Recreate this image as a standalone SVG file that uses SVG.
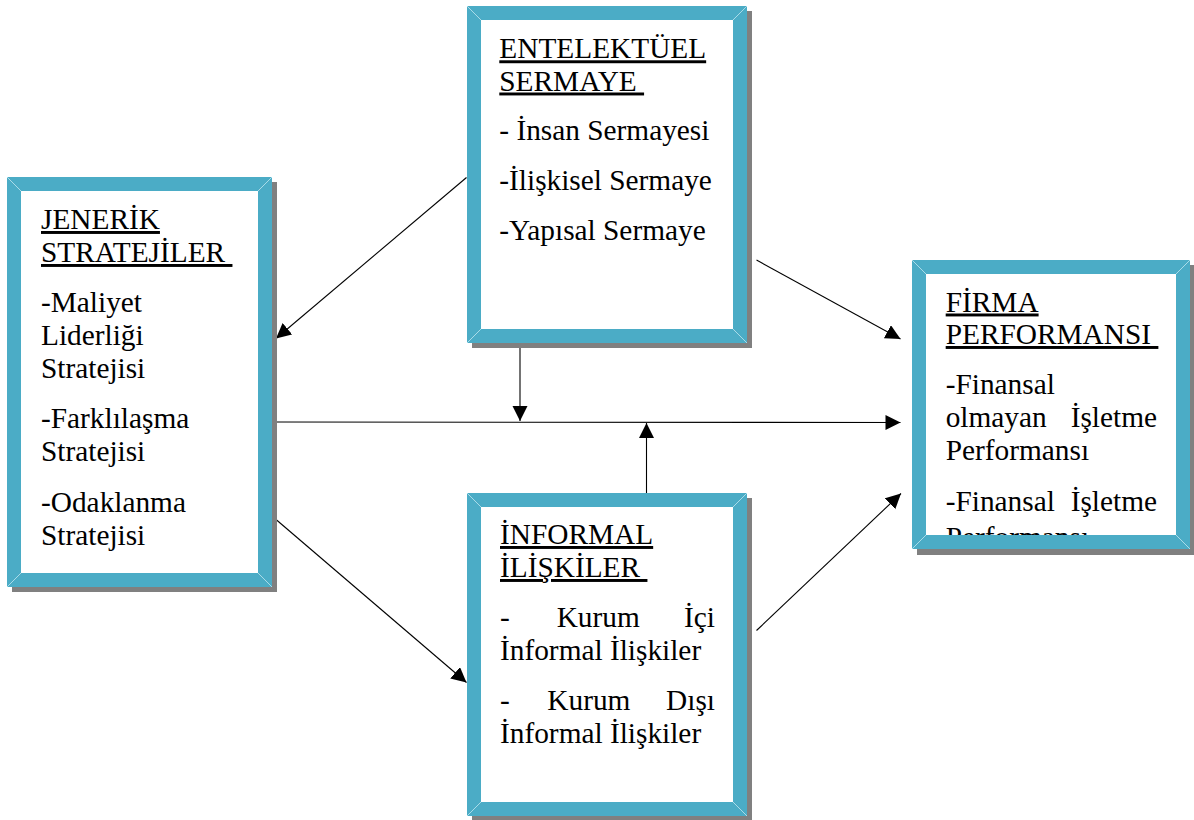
<svg xmlns="http://www.w3.org/2000/svg" width="1194" height="820" viewBox="0 0 1194 820">
  <style>
    .shadow { fill: #808080; }
    .frame { fill: #4bacc6; fill-rule: evenodd; }
    .inner { fill: #ffffff; }
    .bevel { stroke: #a9dbe8; stroke-width: 1; }
    .t { font-family: "Liberation Serif", "Times New Roman", serif; font-size: 29.33px; fill: #000000; }
    .u { text-decoration: underline; }
    .conn { stroke: #000000; stroke-width: 1.1; fill: none; marker-end: url(#ah); }
  </style>
  <defs>
    <marker id="ah" markerUnits="userSpaceOnUse" markerWidth="16" markerHeight="16" refX="15" refY="7.5" orient="auto">
      <path d="M0,0 L15,7.5 L0,15 Z" fill="#000000"/>
    </marker>
    <clipPath id="clip-firma">
      <rect x="926" y="274" width="250" height="262"/>
    </clipPath>
  </defs>

  <rect width="1194" height="820" fill="#ffffff"/>

  <!-- connectors -->
  <g id="connectors">
    <path class="conn" d="M466.5,177.5 L276,338.5"/>
    <path class="conn" d="M756.5,260 L900.5,339"/>
    <path class="conn" d="M520,347 L520,421"/>
    <path class="conn" d="M276,422 L900.5,422.5"/>
    <path class="conn" d="M646.5,493 L646.5,423"/>
    <path class="conn" d="M276,519.5 L466.5,682.5"/>
    <path class="conn" d="M756.5,630.5 L901,493.5"/>
  </g>

  <!-- Entelektüel sermaye -->
  <g id="entelektuel-sermaye">
    <rect class="shadow" x="472" y="11" width="280" height="337"/>
    <rect class="inner" x="481" y="20" width="252" height="309"/>
    <path class="frame" d="M467,6 h280 v337 h-280 Z M481,20 v309 h252 v-309 Z"/>
    <path class="bevel" d="M467,6 L481,20 M747,6 L733,20 M467,343 L481,329 M747,343 L733,329"/>
    <text class="t u" x="499.3" y="58.3">ENTELEKTÜEL</text>
    <text class="t u" x="499.3" y="90.5" xml:space="preserve">SERMAYE </text>
    <text class="t" x="499.3" y="139.5">- İnsan Sermayesi</text>
    <text class="t" x="499.3" y="190">-İlişkisel Sermaye</text>
    <text class="t" x="499.3" y="239.5">-Yapısal Sermaye</text>
  </g>

  <!-- Jenerik stratejiler -->
  <g id="jenerik-stratejiler">
    <rect class="shadow" x="12" y="182" width="265" height="410"/>
    <rect class="inner" x="21" y="191" width="237" height="382"/>
    <path class="frame" d="M7,177 h265 v410 h-265 Z M21,191 v382 h237 v-382 Z"/>
    <path class="bevel" d="M7,177 L21,191 M272,177 L258,191 M7,587 L21,573 M272,587 L258,573"/>
    <text class="t u" x="41" y="229">JENERİK</text>
    <text class="t u" x="41" y="262" xml:space="preserve">STRATEJİLER </text>
    <text class="t" x="41" y="312">-Maliyet</text>
    <text class="t" x="41" y="345">Liderliği</text>
    <text class="t" x="41" y="378">Stratejisi</text>
    <text class="t" x="41" y="428">-Farklılaşma</text>
    <text class="t" x="41" y="461">Stratejisi</text>
    <text class="t" x="41" y="512">-Odaklanma</text>
    <text class="t" x="41" y="545">Stratejisi</text>
  </g>

  <!-- Firma performansı: the last line runs past the frame and is cut off -->
  <g id="firma-performansi">
    <rect class="shadow" x="917" y="265" width="278" height="290"/>
    <rect class="inner" x="926" y="274" width="250" height="262"/>
    <g clip-path="url(#clip-firma)">
      <text class="t u" x="945.7" y="311.5">FİRMA</text>
      <text class="t u" x="945.7" y="344" xml:space="preserve">PERFORMANSI </text>
      <text class="t" x="945.7" y="394">-Finansal</text>
      <text class="t" x="945.7" y="427">olmayan</text>
      <text class="t" x="1157" y="427" text-anchor="end">İşletme</text>
      <text class="t" x="945.7" y="460">Performansı</text>
      <text class="t" x="945.7" y="510.5">-Finansal</text>
      <text class="t" x="1157" y="510.5" text-anchor="end">İşletme</text>
      <text class="t" x="945.7" y="546.5">Performansı</text>
    </g>
    <path class="frame" d="M912,260 h278 v289 h-278 Z M926,274 v261 h250 v-261 Z"/>
    <path class="bevel" d="M912,260 L926,274 M1190,260 L1176,274 M912,549 L926,535 M1190,549 L1176,535"/>
  </g>

  <!-- Informal ilişkiler -->
  <g id="informal-iliskiler">
    <rect class="shadow" x="472" y="498" width="280" height="323"/>
    <rect class="inner" x="481" y="507" width="252" height="295"/>
    <path class="frame" d="M467,493 h280 v323 h-280 Z M481,507 v295 h252 v-295 Z"/>
    <path class="bevel" d="M467,493 L481,507 M747,493 L733,507 M467,816 L481,802 M747,816 L733,802"/>
    <text class="t u" x="500" y="544">İNFORMAL</text>
    <text class="t u" x="500" y="577" xml:space="preserve">İLİŞKİLER </text>
    <text class="t" x="500" y="627">-</text>
    <text class="t" x="556.7" y="627">Kurum</text>
    <text class="t" x="715" y="627" text-anchor="end">İçi</text>
    <text class="t" x="500" y="660">İnformal İlişkiler</text>
    <text class="t" x="500" y="710">-</text>
    <text class="t" x="547.3" y="710">Kurum</text>
    <text class="t" x="715" y="710" text-anchor="end">Dışı</text>
    <text class="t" x="500" y="743">İnformal İlişkiler</text>
  </g>
</svg>
